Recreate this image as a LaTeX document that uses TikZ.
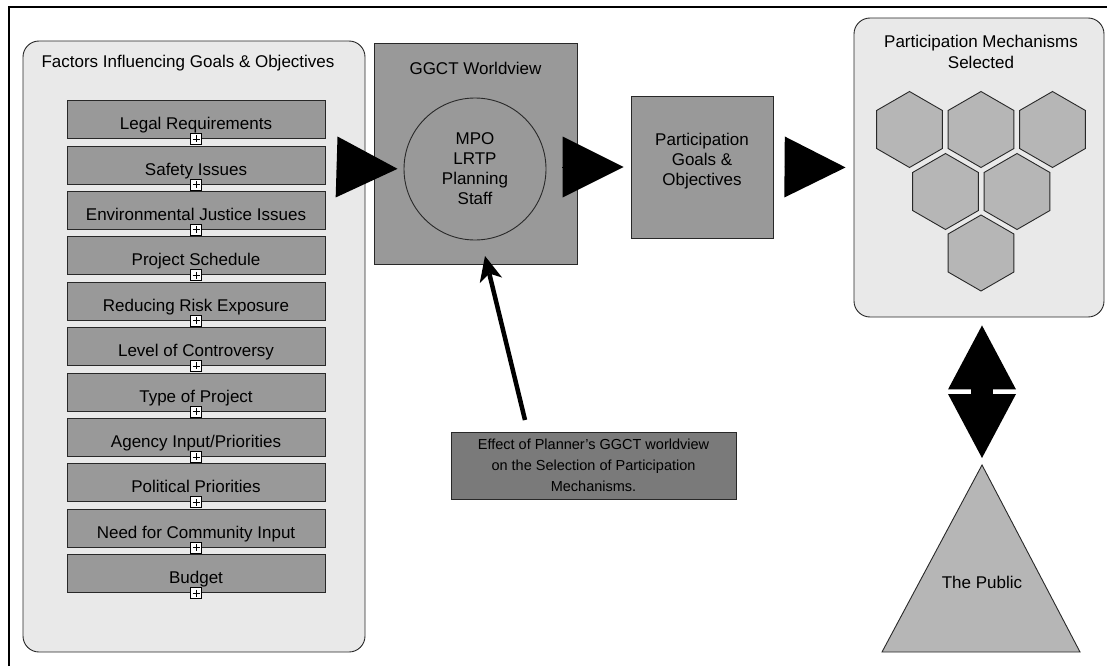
\documentclass[tikz,border=0pt]{standalone}
\usepackage{fontspec}
\setmainfont{Liberation Sans}
\usetikzlibrary{arrows.meta,shapes.geometric}

\definecolor{panelgray}{RGB}{233,233,233}
\definecolor{boxgray}{RGB}{153,153,153}
\definecolor{hexgray}{RGB}{182,182,182}
\definecolor{notegray}{RGB}{122,122,122}
\definecolor{edgegray}{RGB}{40,40,40}

\tikzset{
  panel/.style={draw=edgegray, fill=panelgray, rounded corners=16pt, line width=0.9pt, inner sep=0pt},
  factorbox/.style={draw=edgegray, fill=boxgray, line width=0.9pt, minimum width=258pt, minimum height=38pt, inner sep=0pt, text height=20pt, text depth=0pt},
  plusbox/.style={draw=black, fill=white, line width=0.7pt, minimum size=11pt, inner sep=0pt,
    path picture={\draw[line width=0.7pt] ([yshift=-2pt]path picture bounding box.north) -- ([yshift=2pt]path picture bounding box.south);
                  \draw[line width=0.7pt] ([xshift=2pt]path picture bounding box.west) -- ([xshift=-2pt]path picture bounding box.east);}},
  graybox/.style={draw=edgegray, fill=boxgray, line width=0.9pt, inner sep=0pt, align=center},
  hexcell/.style={regular polygon, regular polygon sides=6, shape border rotate=30, minimum size=76pt, inner sep=0pt, draw=edgegray, fill=hexgray, line width=0.9pt},
  bigarrow/.style={-{Triangle[length=61pt,width=61pt,line width=0pt]}, line width=0.5pt},
  dblarrow/.style={{Triangle[length=64pt,width=68pt,line width=0pt]}-{Triangle[length=64pt,width=68pt,line width=0pt]}, line width=22pt},
  pointer/.style={-{Stealth[length=25pt,width=23pt,inset=7pt,line width=0pt]}, line width=4.5pt}
}

\begin{document}
\begin{tikzpicture}[x=1pt,y=-1pt,font=\fontsize{17}{20}\selectfont]
  \useasboundingbox (0,0) rectangle (1107,666);
  \fill[white] (0,0) rectangle (1107,666);
  \draw[line width=2pt] (9,666) -- (9,7) -- (1107,7);

  % factors
  \node[panel, minimum width=342pt, minimum height=611pt] (factors) at (194,346.5) {};
  \node (factorstitle) at (188,63) {Factors Influencing Goals \& Objectives};

  \node[factorbox] (legal) at (196,119.5) {Legal Requirements};
  \node[plusbox] (legalplus) at (legal.south) {};
  \node[factorbox] (safety) at (196,165) {Safety Issues};
  \node[plusbox] (safetyplus) at (safety.south) {};
  \node[factorbox] (envjustice) at (196,210.3) {Environmental Justice Issues};
  \node[plusbox] (envjusticeplus) at (envjustice.south) {};
  \node[factorbox] (schedule) at (196,255.7) {Project Schedule};
  \node[plusbox] (scheduleplus) at (schedule.south) {};
  \node[factorbox] (risk) at (196,301.1) {Reducing Risk Exposure};
  \node[plusbox] (riskplus) at (risk.south) {};
  \node[factorbox] (controversy) at (196,346.5) {Level of Controversy};
  \node[plusbox] (controversyplus) at (controversy.south) {};
  \node[factorbox] (projtype) at (196,392) {Type of Project};
  \node[plusbox] (projtypeplus) at (projtype.south) {};
  \node[factorbox] (agency) at (196,437.4) {Agency Input/Priorities};
  \node[plusbox] (agencyplus) at (agency.south) {};
  \node[factorbox] (political) at (196,482.8) {Political Priorities};
  \node[plusbox] (politicalplus) at (political.south) {};
  \node[factorbox] (community) at (196,528.2) {Need for Community Input};
  \node[plusbox] (communityplus) at (community.south) {};
  \node[factorbox] (budget) at (196,573.6) {Budget};
  \node[plusbox] (budgetplus) at (budget.south) {};

  % worldview
  \node[graybox, minimum width=203pt, minimum height=221pt] (ggct) at (475.5,153.5) {};
  \node (ggcttitle) at (475.5,68) {GGCT Worldview};
  \node[draw=edgegray, circle, line width=0.9pt, minimum size=142pt, inner sep=0pt, align=center] (staff) at (475,169) {MPO\\LRTP\\Planning\\Staff};

  \node[graybox, minimum width=142pt, minimum height=142pt] (goals) at (702,167) {};
  \node[align=center] (goalstext) at (702,161) {Participation\\Goals \&\\Objectives};

  % mechanisms
  \node[panel, minimum width=250pt, minimum height=299pt] (mech) at (979,167.5) {};
  \node[align=center, font=\fontsize{17}{21}\selectfont] (mechtitle) at (981,52) {Participation Mechanisms\\Selected};
  \node[hexcell] (hexa) at (909.5,129.5) {};
  \node[hexcell] (hexb) at (981,129.5) {};
  \node[hexcell] (hexc) at (1052.5,129.5) {};
  \node[hexcell] (hexd) at (945.5,191.5) {};
  \node[hexcell] (hexe) at (1017,191.5) {};
  \node[hexcell] (hexf) at (981,253) {};

  \coordinate (arrowa) at (337,167);
  \coordinate (arrowb) at (562,167);
  \coordinate (arrowc) at (785,167);
  \draw[bigarrow, shorten >=6pt] (arrowa) -- (staff.west);
  \draw[bigarrow, shorten >=7pt] (arrowb) -- (goals.west);
  \draw[bigarrow, shorten >=8pt] (arrowc) -- (mech.west);

  % effect note
  \node[draw=edgegray, fill=notegray, line width=0.9pt, minimum width=285pt, minimum height=67pt, align=center, font=\fontsize{14.5}{21}\selectfont] (effect) at (593.5,465.5) {Effect of Planner’s GGCT worldview\\on the Selection of Participation\\Mechanisms.};
  \coordinate (effecttail) at (525,420);
  \coordinate (effecttip) at (485,256);
  \draw[pointer] (effecttail) -- (effecttip);

  % public
  \coordinate (pubtop) at (982,465);
  \draw[draw=edgegray, fill=hexgray, line width=0.9pt] (pubtop) -- (1080,652) -- (882,652) -- cycle;
  \node (public) at (982,582) {The Public};
  \draw[dblarrow, shorten <=7pt, shorten >=8pt] (pubtop) -- (pubtop |- mech.south);

\end{tikzpicture}
\end{document}
